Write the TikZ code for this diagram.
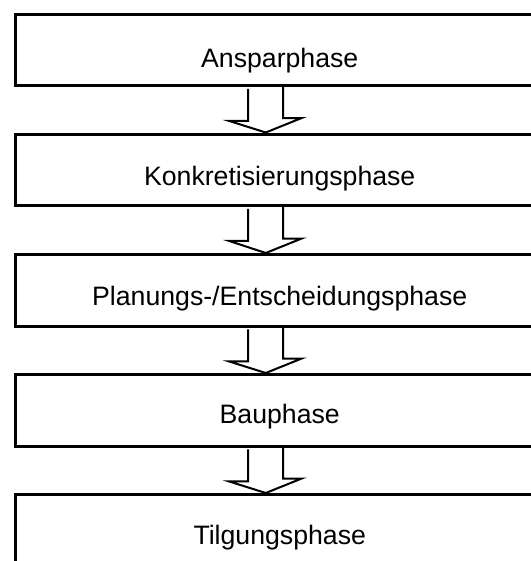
\documentclass[tikz,border=0pt]{standalone}
\usepackage{fontspec}
\setmainfont{Liberation Sans}
\usetikzlibrary{calc}
\begin{document}
\begin{tikzpicture}[x=0.75pt,y=-0.75pt,
  phasebox/.style={draw=black,line width=2.6pt,rectangle,minimum width=529*0.75pt,minimum height=71.5*0.75pt,inner sep=0pt,anchor=north west},
  lbl/.style={font=\fontsize{20}{24}\selectfont,anchor=base,inner sep=0pt},
  hollow/.style={draw=black,line width=1.5pt,line join=miter}]
\useasboundingbox (0,0) rectangle (531,561);
\node[phasebox] (b1) at (13.5,12.5) {};
\node[phasebox] (b2) at (13.5,132.5) {};
\node[phasebox] (b3) at (13.5,253) {};
\node[phasebox] (b4) at (13.5,373) {};
\node[phasebox] (b5) at (13.5,493) {};
\foreach \i/\t/\d in {1/{Ansparphase}/55,2/{Konkretisierungsphase}/53,3/{Planungs-/Entscheidungsphase}/52,4/{Bauphase}/50,5/{Tilgungsphase}/51}{
  \node[lbl] (t\i) at ($(b\i.north)+(0,\d)$) {\t};
}
\foreach \a/\b in {1/2,2/3,3/4,4/5}{
  \draw[hollow] ($(b\a.south)+(-31.5,1.3)$) -- ++(0,32.2) -- ++(-19,0)
    -- ($(b\b.north)+(-14,0)$) -- ++(36,-14.5) -- ++(-18.5,0) -- ++(0,-32.2);
}
\end{tikzpicture}
\end{document}
